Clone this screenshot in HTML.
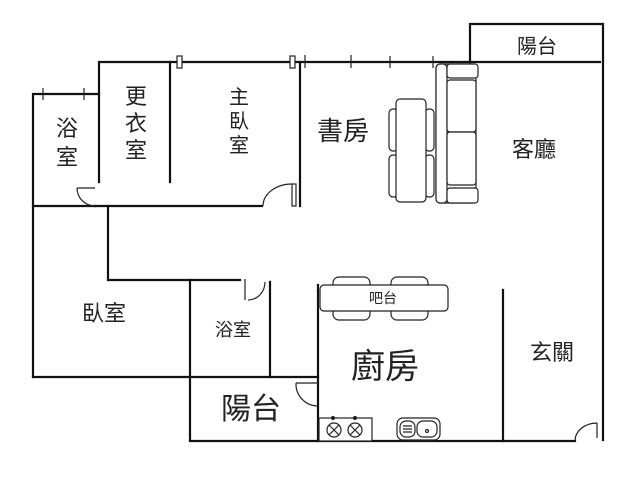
<!DOCTYPE html>
<html><head><meta charset="utf-8"><style>
html,body{margin:0;padding:0;background:#fff;width:640px;height:480px;overflow:hidden}
text{font-family:"Liberation Sans","Noto Sans CJK TC",sans-serif;fill:#222}
</style></head><body>
<svg width="640" height="480" viewBox="0 0 640 480" xmlns="http://www.w3.org/2000/svg">
<g stroke="#111" stroke-width="2.2" fill="none" stroke-linecap="square">
<path d="M99 182 V62 H470"/>
<path d="M33 377 V94 H99"/>
<path d="M470 62 V24 H603 V440"/>
<path d="M470 62 H600"/>
<path d="M170 62 V182"/>
<path d="M300 62 V206"/>
<path d="M33 206 H95"/>
<path d="M95 206 H262"/>
<path d="M108 206 V280 H240"/>
<path d="M190 280 V440"/>
<path d="M270 282 V377"/>
<path d="M33 377 H318"/>
<path d="M318 285 V441"/>
<path d="M190 441 H575"/>
<path d="M503 290 V441"/>
</g>
<g stroke="#222" stroke-width="1.2" fill="#fff">
<rect x="177" y="56" width="5" height="12"/>
<rect x="290" y="56" width="5" height="12"/>
<line x1="305" y1="55" x2="305" y2="68"/>
<line x1="351" y1="55" x2="351" y2="68"/>
<line x1="390" y1="56" x2="390" y2="68"/>
<line x1="433" y1="56" x2="433" y2="68"/>
<line x1="43" y1="88" x2="43" y2="100"/>
<line x1="84" y1="88" x2="84" y2="100"/>
<rect x="292" y="184" width="4" height="22"/>
<path d="M263 206 A29 22 0 0 1 292 184" fill="none"/>
<path d="M77 188 H95 M77 188 A18 18 0 0 0 95 206" fill="none"/>
<path d="M245 279 V300 M248 300 A17 18 0 0 0 265 282" fill="none"/>
<path d="M296 383 H318 M296 383 A22 22 0 0 0 318 406" fill="none"/>
<path d="M597 423 V438 M575 441 A22 18 0 0 1 597 423" fill="none"/>
<rect x="436" y="64" width="40" height="139" rx="4"/>
<rect x="436" y="64" width="11" height="139" rx="4"/>
<rect x="447" y="64" width="31" height="14" rx="3"/>
<rect x="447" y="188" width="31" height="15" rx="3"/>
<rect x="447" y="80" width="29" height="52" rx="3"/>
<rect x="447" y="132" width="29" height="53" rx="3"/>
<rect x="389" y="109" width="9" height="42" rx="4"/>
<rect x="389" y="155" width="9" height="42" rx="4"/>
<rect x="425" y="109" width="9" height="42" rx="4"/>
<rect x="425" y="155" width="9" height="42" rx="4"/>
<rect x="396" y="99" width="30" height="103" rx="4"/>
<rect x="333" y="277" width="37" height="14" rx="6"/>
<rect x="391" y="277" width="37" height="14" rx="6"/>
<rect x="333" y="306" width="37" height="14" rx="6"/>
<rect x="391" y="306" width="37" height="14" rx="6"/>
<rect x="320" y="285" width="128" height="26" rx="4"/>
<rect x="319" y="418" width="53" height="23"/>
<circle cx="334" cy="430" r="7"/><circle cx="355" cy="430" r="7"/>
<path d="M329 425 L339 435 M339 425 L329 435 M350 425 L360 435 M360 425 L350 435"/>
<circle cx="333" cy="418" r="1.5" fill="#111"/><circle cx="355" cy="418" r="1.5" fill="#111"/>
<rect x="397" y="418" width="43" height="22" rx="6"/>
<rect x="400" y="421" width="15" height="16" rx="6"/>
<rect x="417" y="421" width="20" height="16" rx="6"/>
<path d="M403 426 H412 M403 429 H412 M403 432 H412"/>
<circle cx="427" cy="431" r="1.5"/>
</g>
<g font-size="22" text-anchor="middle">
<text x="67" y="136">浴</text><text x="67" y="165">室</text>
<text x="136" y="104">更</text><text x="136" y="131">衣</text><text x="136" y="158">室</text>
<text x="239" y="104" font-size="20">主</text><text x="239" y="128" font-size="20">臥</text><text x="239" y="152" font-size="20">室</text>
<text x="343" y="140" font-size="26">書房</text>
<text x="534" y="157" font-size="22">客廳</text>
<text x="537" y="53" font-size="20">陽台</text>
<text x="104" y="321" font-size="22">臥室</text>
<text x="233" y="336" font-size="18">浴室</text>
<text x="383" y="303" font-size="14">吧台</text>
<text x="385" y="378" font-size="34">廚房</text>
<text x="552" y="360" font-size="22">玄關</text>
<text x="251" y="419" font-size="30">陽台</text>
</g>
</svg>
</body></html>
